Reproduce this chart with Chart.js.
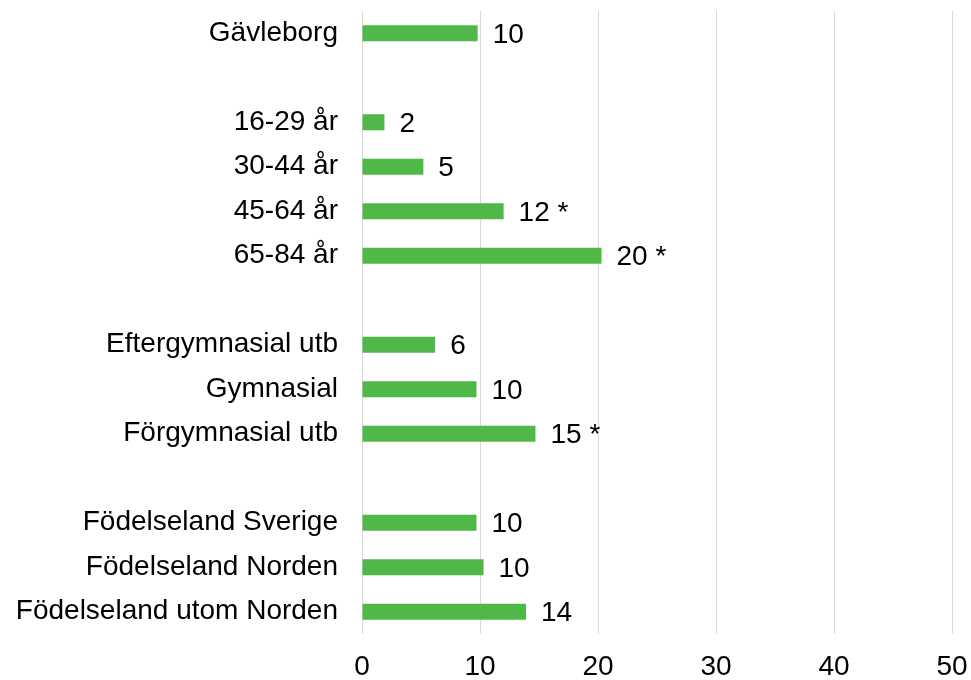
<!DOCTYPE html>
<html>
<head>
<meta charset="utf-8">
<script src="https://cdn.jsdelivr.net/npm/chart.js@4"></script>
<style>
  body { margin: 0; background: #fff; }
  #wrap { width: 971px; height: 680px; }
</style>
</head>
<body>
<div id="wrap"><canvas id="myChart" width="971" height="680"></canvas></div>
<script>
// rows, blanks are spacer rows between groups
var categories = [
  'Gävleborg', '',
  '16-29 år', '30-44 år', '45-64 år', '65-84 år', '',
  'Eftergymnasial utb', 'Gymnasial', 'Förgymnasial utb', '',
  'Födelseland Sverige', 'Födelseland Norden', 'Födelseland utom Norden'
];
var values = [9.8, null, 1.9, 5.2, 12.0, 20.3, null, 6.2, 9.7, 14.7, null, 9.7, 10.3, 13.9];
var valueLabels = ['10', '', '2', '5', '12 *', '20 *', '', '6', '10', '15 *', '', '10', '10', '14'];
var xTicks = [0, 10, 20, 30, 40, 50];

var FONT = '"Liberation Sans", Arial, sans-serif';

var barLabels = {
  id: 'barLabels',
  afterDatasetsDraw: function(chart) {
    var ctx = chart.ctx;
    var meta = chart.getDatasetMeta(0);
    ctx.save();
    ctx.font = '28px ' + FONT;
    ctx.fillStyle = '#000';
    ctx.textAlign = 'left';
    ctx.textBaseline = 'middle';
    meta.data.forEach(function(bar, i) {
      if (values[i] == null) return;
      ctx.fillText(valueLabels[i], bar.x + 15, bar.y + 2);
    });
    ctx.restore();
  }
};

var ctx = document.getElementById('myChart').getContext('2d');
var chart = new Chart(ctx, {
  type: 'bar',
  data: {
    labels: categories,
    datasets: [{
      data: values,
      backgroundColor: '#50b848',
      borderWidth: 0,
      barPercentage: 0.36,
      categoryPercentage: 1
    }]
  },
  options: {
    indexAxis: 'y',
    responsive: false,
    animation: false,
    layout: { padding: { top: 11, right: 19, bottom: 0, left: 0 } },
    plugins: { legend: { display: false }, tooltip: { enabled: false } },
    scales: {
      x: {
        min: 0,
        max: 50,
        afterBuildTicks: function(axis) {
          axis.ticks = xTicks.map(function(v) { return { value: v }; });
        },
        afterFit: function(axis) {
          axis.height = 46;
          axis.paddingLeft = 0;
          axis.paddingRight = 0;
        },
        grid: { color: '#d9d9d9', lineWidth: 1, drawTicks: false },
        border: { display: false },
        ticks: {
          color: '#000',
          padding: 16,
          font: { family: FONT, size: 28 }
        }
      },
      y: {
        grid: { display: false, drawTicks: false },
        border: { display: false },
        afterFit: function(axis) {
          axis.width = 362;
          axis.paddingTop = 0;
          axis.paddingBottom = 0;
        },
        ticks: {
          color: '#000',
          padding: 24,
          autoSkip: false,
          font: { family: FONT, size: 28, lineHeight: 1.32 }
        }
      }
    }
  },
  plugins: [barLabels]
});
</script>
</body>
</html>
